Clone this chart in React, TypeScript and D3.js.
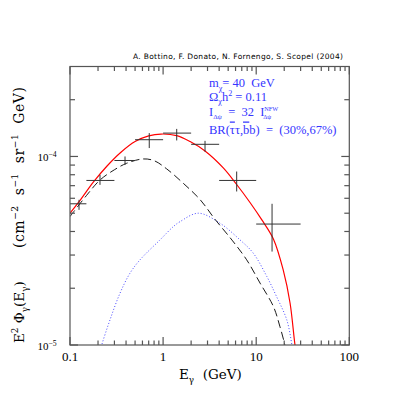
import React from "react";
import * as d3 from "d3";

// ---- data ----
const dataE = [0.125, 0.21, 0.39, 0.71, 1.4, 2.82, 6.17, 14.8];
const dataElo = [0.1, 0.15, 0.3, 0.5, 1.0, 2.0, 4.0, 10.0];
const dataEhi = [0.15, 0.3, 0.5, 1.0, 2.0, 4.0, 10.0, 30.0];
const dataV = [5.61e-5, 7.46e-5, 9.52e-5, 1.227e-4, 1.33e-4, 1.16e-4, 7.46e-5, 4.38e-5];
const dataVlo = [5.21e-5, 7.07e-5, 9.03e-5, 1.108e-4, 1.216e-4, 1.06e-4, 6.52e-5, 3.13e-5];
const dataVhi = [5.89e-5, 7.99e-5, 1.0e-4, 1.33e-4, 1.4e-4, 1.21e-4, 8.32e-5, 5.61e-5];

const totalE = [0.1, 0.13, 0.178, 0.25, 0.35, 0.5, 0.7, 0.95, 1.4, 1.95, 2.82, 4.43, 6.17, 8.58, 11.5, 15.3, 19.5, 23.1, 26.1, 28];
const totalV = [5.0e-5, 5.9e-5, 7.3e-5, 8.9e-5, 1.05e-4, 1.2e-4, 1.285e-4, 1.315e-4, 1.29e-4, 1.2e-4, 1.07e-4, 8.7e-5, 7.1e-5, 5.7e-5, 4.61e-5, 3.65e-5, 2.5e-5, 1.67e-5, 1.0e-5, 0.8e-5];

const contE = [0.1, 0.15, 0.21, 0.3, 0.406, 0.61, 0.8, 1.09, 1.65, 2.5, 3.6, 5.5, 7.9, 11.0, 15.3, 18.0, 20.3, 21.5];
const contV = [4.8e-5, 6.2e-5, 7.5e-5, 8.5e-5, 9.2e-5, 9.7e-5, 9.5e-5, 8.6e-5, 7.2e-5, 5.9e-5, 4.65e-5, 3.6e-5, 2.83e-5, 2.13e-5, 1.6e-5, 1.25e-5, 1.0e-5, 0.85e-5];

const dmE = [0.2, 0.219, 0.269, 0.344, 0.44, 0.565, 0.926, 1.29, 1.51, 2.39, 4.07, 6.7, 9.3, 13.0, 16.6, 21.3, 24.2, 25.5];
const dmV = [0.85e-5, 1.0e-5, 1.36e-5, 1.88e-5, 2.4e-5, 2.83e-5, 3.61e-5, 4.25e-5, 4.5e-5, 5.0e-5, 4.43e-5, 3.61e-5, 3.07e-5, 2.31e-5, 1.8e-5, 1.36e-5, 1.0e-5, 0.85e-5];

const xTickLabels = ["0.1", "1", "10", "100"];
const xTickValues = [0.1, 1, 10, 100];
const yTickValues = [1e-5, 1e-4];
const yTickExps = ["−5", "−4"];

const credit = "A. Bottino, F. Donato, N. Fornengo, S. Scopel (2004)";

// ---- layout ----
const W = 415, H = 415;
const L = 70, R = 349.3, T = 66.5, B = 345;

type Seg = { t: string; s?: "sup" | "sub"; over?: boolean; dx?: number; small?: number };

function Rich({ segs, fs, ...rest }: { segs: Seg[]; fs: number; [k: string]: any }) {
  let cur = 0;
  return (
    <text fontSize={fs} style={{ whiteSpace: "pre" }} {...rest}>
      {segs.map((g, i) => {
        const target = g.s === "sup" ? -0.4 * fs : g.s === "sub" ? 0.3 * fs : 0;
        const dy = target - cur;
        cur = target;
        const size = g.s ? (g.small ?? 0.65) * fs : fs;
        return (
          <tspan key={i} dy={dy} dx={g.dx ?? 0} fontSize={size}
            textDecoration={g.over ? "overline" : undefined}>{g.t}</tspan>
        );
      })}
    </text>
  );
}

export default function App() {
  const x = d3.scaleLog().domain([0.1, 100]).range([L, R]);
  const y = d3.scaleLog().domain([1e-5, 3e-4]).range([B, T]);
  const line = d3.line<[number, number]>()
    .x((d) => x(d[0])).y((d) => y(d[1])).curve(d3.curveCatmullRom.alpha(0.5));

  const xMinor: number[] = [];
  [0.1, 1, 10].forEach((dec) => { for (let k = 2; k <= 9; k++) xMinor.push(dec * k); });
  const yMinor: number[] = [];
  [1e-5, 1e-4].forEach((dec) => { for (let k = 2; k <= 9; k++) if (dec * k <= 3e-4) yMinor.push(dec * k); });

  const axisColor = "#555";
  const blue = "#3535ff";
  const serif = "'Liberation Serif', 'DejaVu Serif', serif";
  const wserif = "'DejaVu Serif', 'Liberation Serif', serif";

  return (
    <svg width={W} height={H} style={{ position: "absolute", left: 0, top: 0, background: "#fff" }}>
      <defs>
        <clipPath id="plotclip"><rect x={L} y={T} width={R - L} height={B - T} /></clipPath>
      </defs>
      <rect x={0} y={0} width={W} height={H} fill="#fff" />

      {/* credit */}
      <text x={133} y={58.5} textLength={210} lengthAdjust="spacing" fontSize={7.5} fontFamily="'DejaVu Sans', 'Liberation Sans', sans-serif" fill="#000">{credit}</text>

      {/* curves */}
      <g clipPath="url(#plotclip)" fill="none">
        <path d={line(dmE.map((e, i) => [e, dmV[i]]) as any) ?? ""} stroke="#4848ff" strokeWidth={1} strokeDasharray="1,2" />
        <path d={line(contE.map((e, i) => [e, contV[i]]) as any) ?? ""} stroke="#000" strokeWidth={0.9} strokeDasharray="8,4" />
        <path d={line(totalE.map((e, i) => [e, totalV[i]]) as any) ?? ""} stroke="#ff0000" strokeWidth={1.2} />
      </g>

      {/* data points */}
      <g stroke="#333" strokeWidth={1}>
        {dataE.map((e, i) => (
          <g key={i}>
            <line x1={x(dataElo[i])} x2={x(dataEhi[i])} y1={y(dataV[i])} y2={y(dataV[i])} />
            <line x1={x(e)} x2={x(e)} y1={y(dataVlo[i])} y2={y(dataVhi[i])} />
          </g>
        ))}
      </g>

      {/* frame and ticks */}
      <g stroke={axisColor} strokeWidth={1.2} fill="none">
        <rect x={L} y={T} width={R - L} height={B - T} />
        {xTickValues.map((v, i) => (
          <g key={"xm" + i}>
            <line x1={x(v)} x2={x(v)} y1={B} y2={B - 8} />
            <line x1={x(v)} x2={x(v)} y1={T} y2={T + 8} />
          </g>
        ))}
        {xMinor.map((v, i) => (
          <g key={"xn" + i}>
            <line x1={x(v)} x2={x(v)} y1={B} y2={B - 4.5} />
            <line x1={x(v)} x2={x(v)} y1={T} y2={T + 4.5} />
          </g>
        ))}
        {yTickValues.map((v, i) => (
          <g key={"ym" + i}>
            <line x1={L} x2={L + 8} y1={y(v)} y2={y(v)} />
            <line x1={R} x2={R - 8} y1={y(v)} y2={y(v)} />
          </g>
        ))}
        {yMinor.map((v, i) => (
          <g key={"yn" + i}>
            <line x1={L} x2={L + 5} y1={y(v)} y2={y(v)} />
            <line x1={R} x2={R - 5} y1={y(v)} y2={y(v)} />
          </g>
        ))}
      </g>

      {/* x tick labels */}
      {xTickValues.map((v, i) => (
        <text key={"xl" + i} x={x(v)} y={B + 15.5} textAnchor="middle" fontSize={13} fontFamily={serif} fill="#000">{xTickLabels[i]}</text>
      ))}
      {/* y tick labels */}
      {yTickValues.map((v, i) => (
        <Rich key={"yl" + i} segs={[{ t: "10" }, { t: yTickExps[i], s: "sup", small: 0.7 }]} fs={11}
          x={37.5} y={y(v) + 5} fontFamily={serif} fill="#000" />
      ))}

      {/* axis titles */}
      <Rich segs={[{ t: "E" }, { t: "γ", s: "sub" }, { t: "  (GeV)" }]} fs={13.5}
        x={179} y={378.5} fontFamily={wserif} fill="#000" />
      <g transform="translate(23.5,343) rotate(-90)">
        <Rich segs={[
          { t: "E" }, { t: "2", s: "sup" }, { t: " Φ" }, { t: "γ", s: "sub" }, { t: "(E" }, { t: "γ", s: "sub" }, { t: ")" },
        ]} fs={13.5} x={0} y={0} fontFamily={wserif} fill="#000" />
        <Rich segs={[
          { t: "(cm" }, { t: "−2", s: "sup" }, { t: "  s" }, { t: "−1", s: "sup" }, { t: "  sr" }, { t: "−1", s: "sup" }, { t: "  GeV)" },
        ]} fs={14} x={95} y={0} textLength={161} lengthAdjust="spacing" fontFamily={wserif} fill="#000" />
      </g>

      {/* annotations */}
      <g fill={blue} fontFamily={serif}>
        <Rich segs={[{ t: "m" }, { t: "χ", s: "sub" }, { t: "= 40  GeV" }]} fs={12.5} x={209} y={87} />
        <Rich segs={[{ t: "Ω" }, { t: "χ", s: "sub" }, { t: "h" }, { t: "2", s: "sup" }, { t: " = 0.11" }]} fs={12.5} x={209} y={100.5} />
        <Rich segs={[{ t: "I" }, { t: "Δψ", s: "sub", small: 0.55 }, { t: "  =  32  I" }, { t: "NFW", s: "sup", small: 0.5 }, { t: "Δψ", s: "sub", small: 0.5, dx: -15 }]} fs={12.5} x={209} y={115.5} />
        <Rich segs={[{ t: "BR(" }, { t: "τ", over: true }, { t: "τ," }, { t: "b", over: true }, { t: "b)  =  (30%,67%)" }]} fs={12.5} x={209} y={133.5} />
      </g>
    </svg>
  );
}
